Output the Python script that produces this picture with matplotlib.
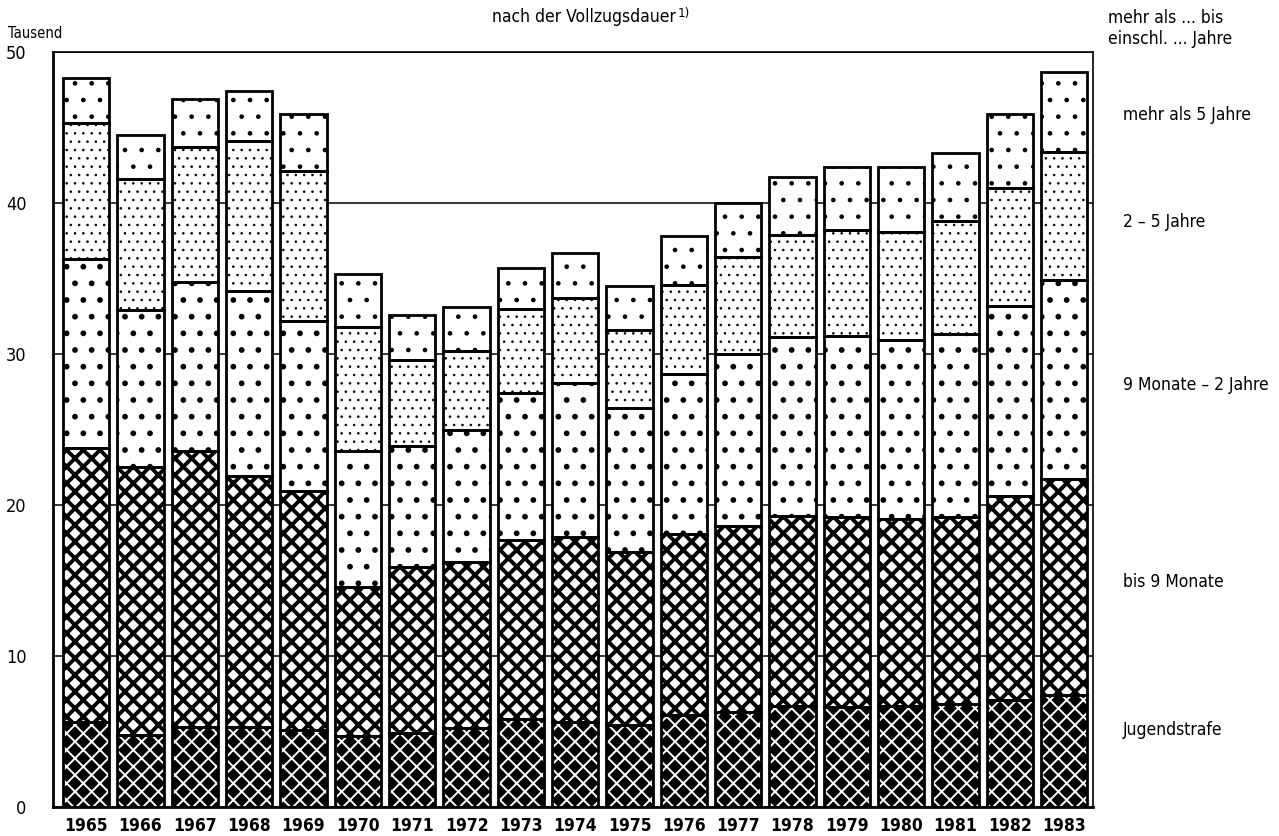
import matplotlib
matplotlib.use("Agg")
import matplotlib.pyplot as plt
import numpy as np

years = [str(y) for y in range(1965, 1984)]
jugendstrafe   = [5.6, 4.8, 5.3, 5.3, 5.1, 4.7, 4.9, 5.2, 5.8, 5.6, 5.4, 6.1, 6.3, 6.7, 6.6, 6.7, 6.8, 7.1, 7.4]
bis_9_monate   = [18.2, 17.7, 18.3, 16.6, 15.8, 9.9, 11.0, 11.0, 11.9, 12.3, 11.5, 12.0, 12.3, 12.6, 12.6, 12.4, 12.4, 13.5, 14.3]
monate9_jahre2 = [12.5, 10.4, 11.2, 12.3, 11.3, 9.0, 8.0, 8.8, 9.7, 10.2, 9.5, 10.6, 11.4, 11.8, 12.0, 11.8, 12.1, 12.6, 13.2]
jahre2_5       = [9.0, 8.7, 8.9, 9.9, 9.9, 8.2, 5.7, 5.2, 5.6, 5.6, 5.2, 5.9, 6.4, 6.8, 7.0, 7.2, 7.5, 7.8, 8.5]
mehr_5         = [3.0, 2.9, 3.2, 3.3, 3.8, 3.5, 3.0, 2.9, 2.7, 3.0, 2.9, 3.2, 3.6, 3.8, 4.2, 4.3, 4.5, 4.9, 5.3]
yticks = [0, 10, 20, 30, 40, 50]
series_labels = ["Jugendstrafe", "bis 9 Monate", "9 Monate \u2013 2 Jahre", "2 \u2013 5 Jahre", "mehr als 5 Jahre"]

plt.rcParams["font.family"] = ["DejaVu Sans"]
plt.rcParams["font.stretch"] = "condensed"

W, H = 1279, 836
fig = plt.figure(figsize=(W / 100, H / 100), dpi=100)
left, right, bottom_px, top_px = 53, 1093, 807, 52
ax = fig.add_axes([left / W, 1 - bottom_px / H, (right - left) / W, (bottom_px - top_px) / H])

x = np.arange(len(years))
width = 0.85

styles = [
    # values, facecolor, hatch colour, hatch, hatch linewidth
    (jugendstrafe, "black", "white", "xx", 1.4),
    (bis_9_monate, "white", "black", "xx", 2.8),
    (monate9_jahre2, "white", "black", ".", 1.7),
    (jahre2_5, "white", "black", "..", 0.6),
    (mehr_5, "white", "black", ".", 0.9),
]

base = np.zeros(len(years))
for vals, face, hcol, hatch, hlw in styles:
    vals = np.array(vals)
    with plt.rc_context({"hatch.linewidth": hlw}):
        bars = ax.bar(x, vals, width, bottom=base, facecolor=face, edgecolor=hcol,
                      linewidth=0, hatch=hatch, zorder=2)
    for b in bars:
        if hasattr(b, "set_hatch_linewidth"):
            b.set_hatch_linewidth(hlw)
    ax.bar(x, vals, width, bottom=base, fill=False, edgecolor="black",
           linewidth=2.0, zorder=3)
    base = base + vals

ax.set_xlim(-0.61, 18.53)
ax.set_ylim(0, 50)
ax.set_yticks(yticks)
ax.set_yticklabels([str(t) for t in yticks], fontsize=13)
ax.set_xticks(x)
ax.set_xticklabels(years, fontsize=12.5, fontweight="bold")
ax.tick_params(axis="both", length=0)
ax.tick_params(axis="y", pad=19)
ax.tick_params(axis="x", pad=7)
ax.yaxis.grid(True, color="black", linewidth=1.1)
ax.set_axisbelow(True)
for s in ["left", "bottom"]:
    ax.spines[s].set_linewidth(2.0)
for s in ["top", "right"]:
    ax.spines[s].set_linewidth(1.2)

fig.text(8 / W, 1 - 33 / H, "Tausend", fontsize=10.5, ha="left", va="center")
fig.text(676 / W, 1 - 17 / H, "nach der Vollzugsdauer", fontsize=12.5, ha="right", va="center")
fig.text(678 / W, 1 - 13 / H, "1)", fontsize=9.5, ha="left", va="center")

fig.text(1108 / W, 1 - 18 / H, "mehr als ... bis", fontsize=12.5, ha="left", va="center")
fig.text(1108 / W, 1 - 39 / H, "einschl. ... Jahre", fontsize=12.5, ha="left", va="center")
label_y = [730, 582, 385, 222, 115]
for lab, yy in zip(series_labels, label_y):
    fig.text(1123 / W, 1 - yy / H, lab, fontsize=12.5, ha="left", va="center")

fig.savefig("out.png", dpi=100)
